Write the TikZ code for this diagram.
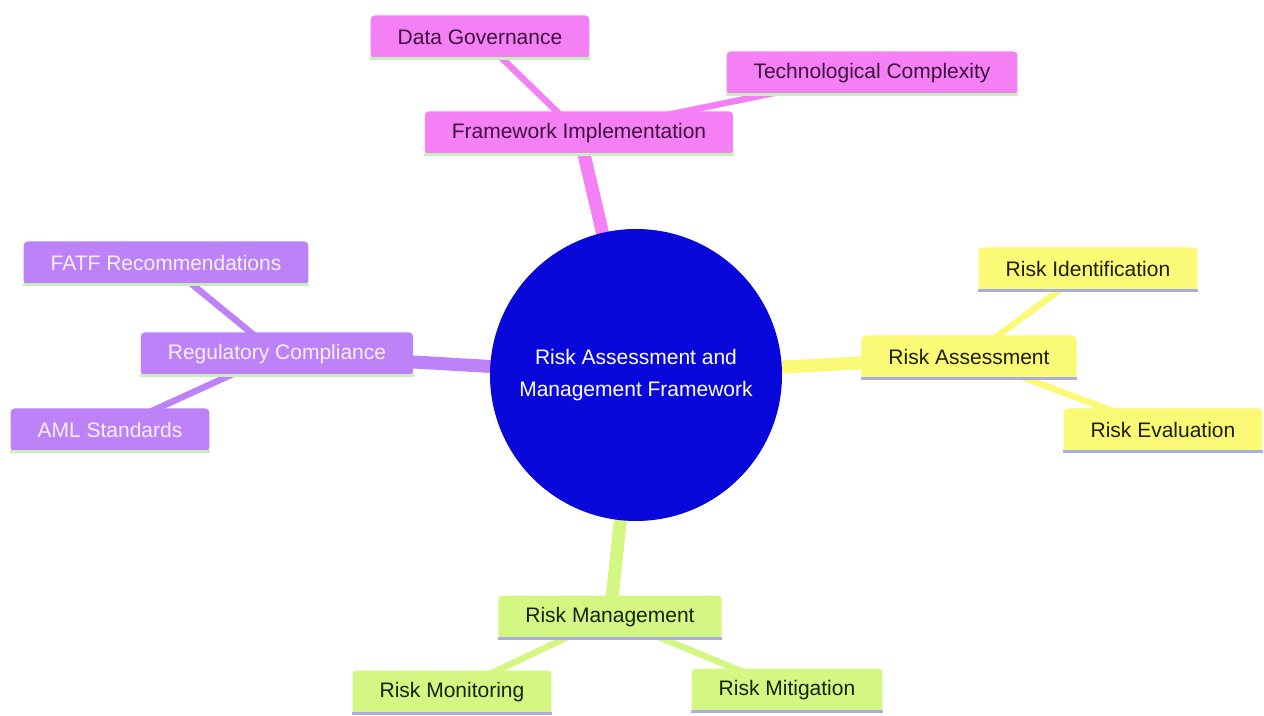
\documentclass[tikz,border=0pt]{standalone}
\usepackage{fontspec}
\setmainfont{Liberation Sans}
\usetikzlibrary{backgrounds}

\definecolor{rootblue}{RGB}{8,8,218}
\definecolor{pinkbox}{RGB}{245,128,245}
\definecolor{pinktext}{RGB}{62,16,62}
\definecolor{purplebox}{RGB}{190,130,248}
\definecolor{purpletext}{RGB}{246,240,255}
\definecolor{yellowbox}{RGB}{250,250,118}
\definecolor{yellowtext}{RGB}{30,30,10}
\definecolor{greenbox}{RGB}{212,246,130}
\definecolor{greentext}{RGB}{25,35,10}
\definecolor{greenline}{RGB}{200,238,190}
\definecolor{lavline}{RGB}{172,172,228}

\tikzset{
    leaf/.style={rectangle, rounded corners=2pt, inner xsep=13.5pt,
        minimum height=21.5pt, font=\fontsize{10.5}{12.6}\selectfont},
    pinkleaf/.style={leaf, fill=pinkbox, text=pinktext},
    purpleleaf/.style={leaf, fill=purplebox, text=purpletext},
    yellowleaf/.style={leaf, fill=yellowbox, text=yellowtext},
    greenleaf/.style={leaf, fill=greenbox, text=greentext},
    trunk/.style={line width=6.5pt},
    twig/.style={line width=3.2pt}
}

\begin{document}
\begin{tikzpicture}[x=0.5pt, y=-0.5pt]
            \useasboundingbox (0, 0) rectangle (1264, 716);
            \node[circle, fill=rootblue, minimum size=146pt, text=white,
                align=center, font=\fontsize{10.5}{16}\selectfont] (root) at (636, 375) {
                Risk Assessment and\\Management Framework
            };
            % framework implementation
            \node[pinkleaf] (fi) at (579, 133) {Framework Implementation};
            \node[pinkleaf] (dg) at (480, 37) {Data Governance};
            \node[pinkleaf] (tc) at (872, 73) {Technological Complexity};
            % regulatory compliance
            \node[purpleleaf] (rc) at (277, 354) {Regulatory Compliance};
            \node[purpleleaf] (fatf) at (166, 263) {FATF Recommendations};
            \node[purpleleaf] (aml) at (110, 430) {AML Standards};
            % risk assessment
            \node[yellowleaf] (ra) at (969, 357) {Risk Assessment};
            \node[yellowleaf] (ri) at (1088, 269) {Risk Identification};
            \node[yellowleaf] (re) at (1163, 430) {Risk Evaluation};
            % risk management
            \node[greenleaf] (rm) at (610, 617) {Risk Management};
            \node[greenleaf] (rmo) at (452, 692) {Risk Monitoring};
            \node[greenleaf] (rmi) at (787, 690) {Risk Mitigation};

            \foreach \n/\c in {fi/greenline, dg/greenline, tc/greenline,
                rc/greenline, fatf/greenline, aml/greenline,
                ra/lavline, ri/lavline, re/lavline,
                rm/lavline, rmo/lavline, rmi/lavline}
                \draw[\c, line width=1.5pt] (\n.south west) -- (\n.south east);

            \begin{scope}[on background layer]
                \fill[white] (0, 0) rectangle (1264, 716);
                \draw[trunk, pinkbox] (root.center) -- (fi.center);
                \draw[twig, pinkbox] (fi.center) -- (dg.center);
                \draw[twig, pinkbox] (fi.center) -- (tc.center);
                \draw[trunk, purplebox] (root.center) -- (rc.center);
                \draw[twig, purplebox] (rc.center) -- (fatf.center);
                \draw[twig, purplebox] (rc.center) -- (aml.center);
                \draw[trunk, yellowbox] (root.center) -- (ra.center);
                \draw[twig, yellowbox] (ra.center) -- (ri.center);
                \draw[twig, yellowbox] (ra.center) -- (re.center);
                \draw[trunk, greenbox] (root.center) -- (rm.center);
                \draw[twig, greenbox] (rm.center) -- (rmo.center);
                \draw[twig, greenbox] (rm.center) -- (rmi.center);
            \end{scope}
        \end{tikzpicture}
\end{document}
